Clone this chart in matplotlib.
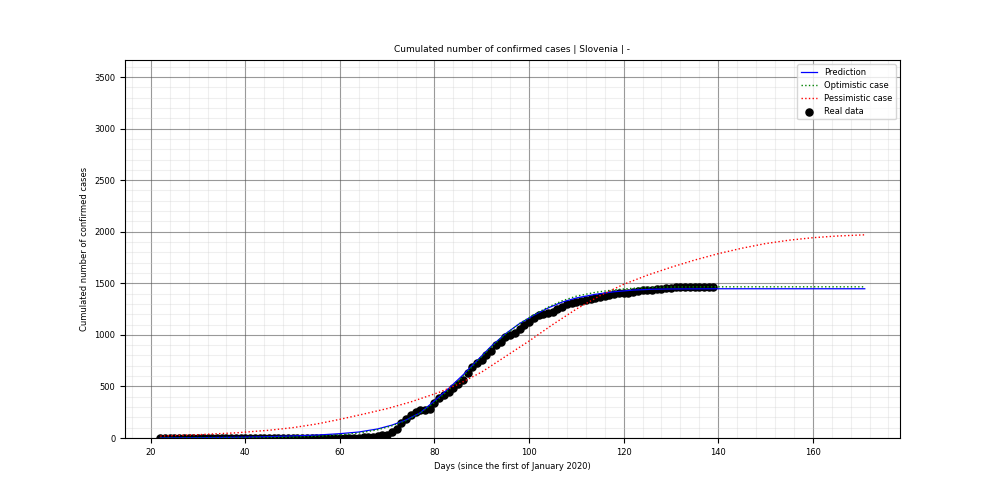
import numpy as np
import matplotlib
matplotlib.use('Agg')
import matplotlib.pyplot as plt
from matplotlib.ticker import MultipleLocator

# real data (days since 1 Jan 2020, cumulated cases)
real_days = list(range(22, 140))
real_cases = [0] * 42 + [
    1, 6, 8, 12, 16, 25, 31, 57, 89, 141, 181, 219, 253, 275, 275, 286,
    341, 383, 414, 442, 480, 528, 562, 632, 684, 730, 756, 802, 841, 897,
    934, 977, 997, 1021, 1059, 1091, 1124, 1160, 1188, 1205, 1212, 1220,
    1248, 1268, 1304, 1311, 1317, 1330, 1335, 1344, 1353, 1366, 1373, 1388,
    1396, 1402, 1406, 1408, 1416, 1429, 1434, 1439, 1439, 1448, 1449, 1450,
    1454, 1460, 1461, 1463, 1464, 1465, 1466, 1466, 1467, 1468]

# model curves
pred_days = [22, 30, 38, 45, 50, 55, 60, 64, 68, 71, 74, 77, 80, 83, 86, 89, 92,
             95, 98, 101, 104, 107, 110, 114, 118, 122, 126, 130, 140, 171]
pred_cases = [1, 3, 7, 13, 20, 28, 42, 58, 88, 125, 175, 245, 360, 480, 610, 750,
              890, 1010, 1110, 1190, 1260, 1318, 1358, 1393, 1418, 1434, 1442,
              1445, 1447, 1447]

opt_days = pred_days
opt_cases = [0, 1, 3, 6, 10, 17, 30, 48, 80, 118, 170, 242, 345, 465, 595, 742,
             882, 1005, 1110, 1195, 1268, 1330, 1375, 1412, 1437, 1452, 1460,
             1464, 1466, 1466]

pess_days = [22, 30, 38, 45, 50, 55, 60, 65, 70, 75, 81, 85, 90, 95, 100, 105,
             110, 115, 120, 125, 130, 135, 140, 145, 150, 155, 160, 165, 171]
pess_cases = [19, 32, 50, 75, 100, 135, 181, 232, 285, 350, 443, 520, 640, 790,
              940, 1100, 1250, 1380, 1490, 1578, 1655, 1725, 1787, 1840, 1885,
              1918, 1942, 1958, 1970]

fig = plt.figure(figsize=(10, 5), dpi=100)
ax = fig.add_axes([0.125, 0.124, 0.775, 0.756])

ax.scatter(real_days, real_cases, s=26, color='black', label='Real data', zorder=2)
ax.plot(pred_days, pred_cases, color='blue', lw=0.9, label='Prediction', zorder=3)
ax.plot(opt_days, opt_cases, color='green', ls=':', lw=1, label='Optimistic case', zorder=3)
ax.plot(pess_days, pess_cases, color='red', ls=':', lw=1, label='Pessimistic case', zorder=3)

ax.set_xlim(14.55, 178.45)
ax.set_ylim(0, 3665)
ax.xaxis.set_major_locator(MultipleLocator(20))
ax.xaxis.set_minor_locator(MultipleLocator(4))
ax.yaxis.set_major_locator(MultipleLocator(500))
ax.yaxis.set_minor_locator(MultipleLocator(100))
ax.grid(which='major', color='#555555', alpha=0.6, lw=0.8)
ax.grid(which='minor', color='#cccccc', alpha=0.3, lw=0.8)
ax.tick_params(labelsize=6)
ax.tick_params(which='minor', length=0)

ax.set_title('Cumulated number of confirmed cases | Slovenia | -', fontsize=6.5)
ax.set_xlabel('Days (since the first of January 2020)', fontsize=6)
ax.set_ylabel('Cumulated number of confirmed cases', fontsize=6)

# legend order: lines first, real data last
h, l = ax.get_legend_handles_labels()
order = [l.index(n) for n in ['Prediction', 'Optimistic case', 'Pessimistic case', 'Real data']]
ax.legend([h[i] for i in order], [l[i] for i in order], loc='upper right', fontsize=6)

fig.savefig('out.png', dpi=100)
